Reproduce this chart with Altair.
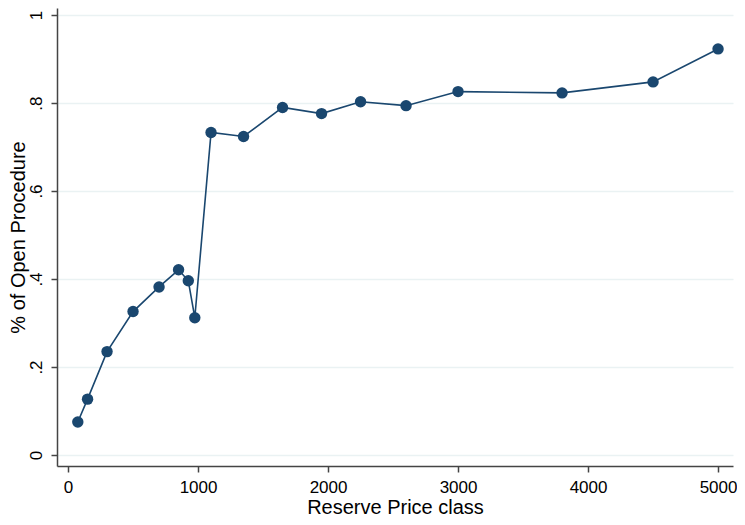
import altair as alt
import pandas as pd

reserve_price = [75, 150, 300, 500, 700, 850, 925, 975, 1100, 1350, 1650, 1950,
                 2250, 2600, 3000, 3800, 4500, 5000]
share_open = [0.075, 0.127, 0.235, 0.326, 0.382, 0.421, 0.396, 0.312, 0.733, 0.724,
              0.790, 0.776, 0.803, 0.794, 0.826, 0.823, 0.848, 0.923]

x_ticks = [0, 1000, 2000, 3000, 4000, 5000]
y_ticks = [0, 0.2, 0.4, 0.6, 0.8, 1.0]

df = pd.DataFrame({"x": reserve_price, "y": share_open})

color = "#1a476f"
font = "Liberation Sans"
W, H = 676, 458

x_enc = alt.X("x:Q", scale=alt.Scale(domain=[-85, 5115], nice=False, zero=False),
              axis=alt.Axis(values=x_ticks, title="Reserve Price class", grid=False,
                            format="d", labelPadding=7,
                            titleX=W / 2, titleY=41, titleBaseline="middle",
                            titleAlign="center"))
y_enc = alt.Y("y:Q", scale=alt.Scale(domain=[-0.025, 1.016], nice=False, zero=False),
              axis=alt.Axis(values=y_ticks, title="% of Open Procedure", grid=True,
                            labelAngle=270, labelAlign="center", labelBaseline="bottom",
                            labelPadding=6,
                            titleX=-38.5, titleY=H / 2, titleAngle=270,
                            titleBaseline="middle", titleAlign="center",
                            labelExpr="datum.value == 0 ? '0' : (datum.value == 1 ? '1' : replace(format(datum.value, '.1f'), '0.', '.'))"))

line = alt.Chart(df).mark_line(color=color, strokeWidth=1.6).encode(x=x_enc, y=y_enc)
pts = alt.Chart(df).mark_point(filled=True, color=color, size=130, opacity=1).encode(x=x_enc, y=y_enc)

chart = (line + pts).properties(
    width=W, height=H,
    autosize=alt.AutoSizeParams(type="none"),
    padding={"left": 49, "top": 0, "right": 4, "bottom": 51},
    background="white",
).configure_view(stroke=None).configure_axis(
    labelFont=font, titleFont=font, labelFontSize=17, titleFontSize=20,
    labelColor="#000000", titleColor="#000000", titleFontWeight="normal",
    domainColor="#444444", domainWidth=1.5, tickColor="#444444", tickWidth=1.5,
    tickSize=6, gridColor="#eaf2f3", gridWidth=1.5,
)

chart.save("out.html", embed_options={"renderer": "svg", "actions": False})
